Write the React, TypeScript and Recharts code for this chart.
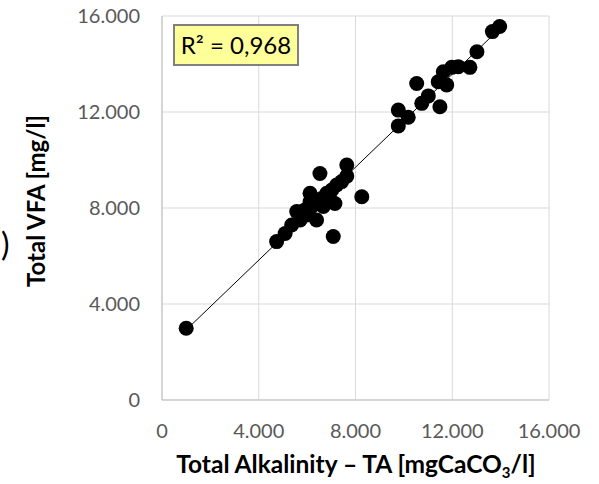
import { ScatterChart, Scatter, XAxis, YAxis, CartesianGrid } from "recharts";

const alkalinity = [
  1000, 4740, 5090, 5360, 5570, 5710, 5910, 5980, 6120, 6120, 6190, 6390, 6390, 6530,
  6600, 6670, 6810, 6950, 7020, 7080, 7150, 7220, 7430, 7640, 7640, 8260, 9770, 9770,
  10180, 10530, 10740, 11010, 11420, 11490, 11630, 11770, 11980, 12250, 12730, 13020,
  13660, 13960,
];
const vfa = [
  2990, 6600, 6940, 7290, 7850, 7500, 7920, 7710, 8610, 8260, 8060, 7500, 8190, 9440,
  8400, 8060, 8610, 8330, 8750, 6810, 8190, 8960, 9100, 9790, 9330, 8470, 12080, 11420,
  11780, 13190, 12360, 12670, 13260, 12220, 13680, 13130, 13860, 13890, 13860, 14510,
  15350, 15560,
];
const axisTicks = [0, 4000, 8000, 12000, 16000];
const r2Label = "R² = 0,968";

const points = alkalinity.map((x, i) => ({ x, y: vfa[i] }));

// least squares trendline over the data range, like Excel's linear trendline
const n = points.length;
const mx = alkalinity.reduce((a, b) => a + b, 0) / n;
const my = vfa.reduce((a, b) => a + b, 0) / n;
let sxy = 0, sxx = 0;
points.forEach((p) => { sxy += (p.x - mx) * (p.y - my); sxx += (p.x - mx) ** 2; });
const slope = sxy / sxx;
const icept = my - slope * mx;
const xMin = Math.min(...alkalinity);
const xMax = Math.max(...alkalinity);
const trend = [
  { x: xMin, y: icept + slope * xMin },
  { x: xMax, y: icept + slope * xMax },
];

const fmt = (v: number) => v.toLocaleString("de-DE");
const FONT = "Lato, 'Open Sans', sans-serif";
const tickStyle = { fill: "#595959", fontSize: 20, fontFamily: FONT };

const XTitle = () => (
  <text x={356} y={473} textAnchor="middle" fontFamily={FONT} fontWeight={700} fontSize={24.5} fill="#000">
    Total Alkalinity – TA [mgCaCO<tspan fontSize={15} dy={5}>3</tspan><tspan dy={-5}>/l]</tspan>
  </text>
);

const YTitle = () => (
  <text x={0} y={0} transform="translate(45,201) rotate(-90)" textAnchor="middle" fontFamily={FONT} fontWeight={700} fontSize={24} fill="#000">
    Total VFA [mg/l]
  </text>
);

export default function App() {
  return (
    <div style={{ position: "absolute", left: 0, top: 0, width: 599, height: 484, background: "#fff" }}>
      <ScatterChart width={599} height={484} margin={{ top: 16, right: 50, bottom: 0, left: 0 }}>
        <CartesianGrid stroke="#d9d9d9" />
        <XAxis
          type="number" dataKey="x" domain={[0, 16000]} ticks={axisTicks} tickFormatter={fmt}
          height={84} tick={tickStyle} tickLine={false} tickSize={6} tickMargin={18}
          axisLine={{ stroke: "#bfbfbf" }} label={{ content: XTitle }}
        />
        <YAxis
          type="number" dataKey="y" domain={[0, 16000]} ticks={axisTicks} tickFormatter={fmt}
          width={162} tick={tickStyle} tickLine={false} tickSize={6} tickMargin={16}
          axisLine={{ stroke: "#bfbfbf" }} label={{ content: YTitle }}
        />
        <Scatter data={trend} line={{ stroke: "#000", strokeWidth: 1 }} shape={() => <g />} isAnimationActive={false} />
        <Scatter data={points} fill="#000" isAnimationActive={false}
          shape={(p: any) => <circle cx={p.cx} cy={p.cy} r={7.5} fill="#000" />} />
      </ScatterChart>
      <div style={{
        position: "absolute", left: 173, top: 24, width: 122, height: 38, background: "#ffff99",
        border: "2px solid #808080", fontFamily: FONT, fontSize: 24, lineHeight: "38px",
        textAlign: "center", color: "#000",
      }}>{r2Label}</div>
      <div style={{
        position: "absolute", left: 1, top: 225, fontFamily: FONT, fontSize: 32, lineHeight: "38px", color: "#000",
      }}>)</div>
    </div>
  );
}
